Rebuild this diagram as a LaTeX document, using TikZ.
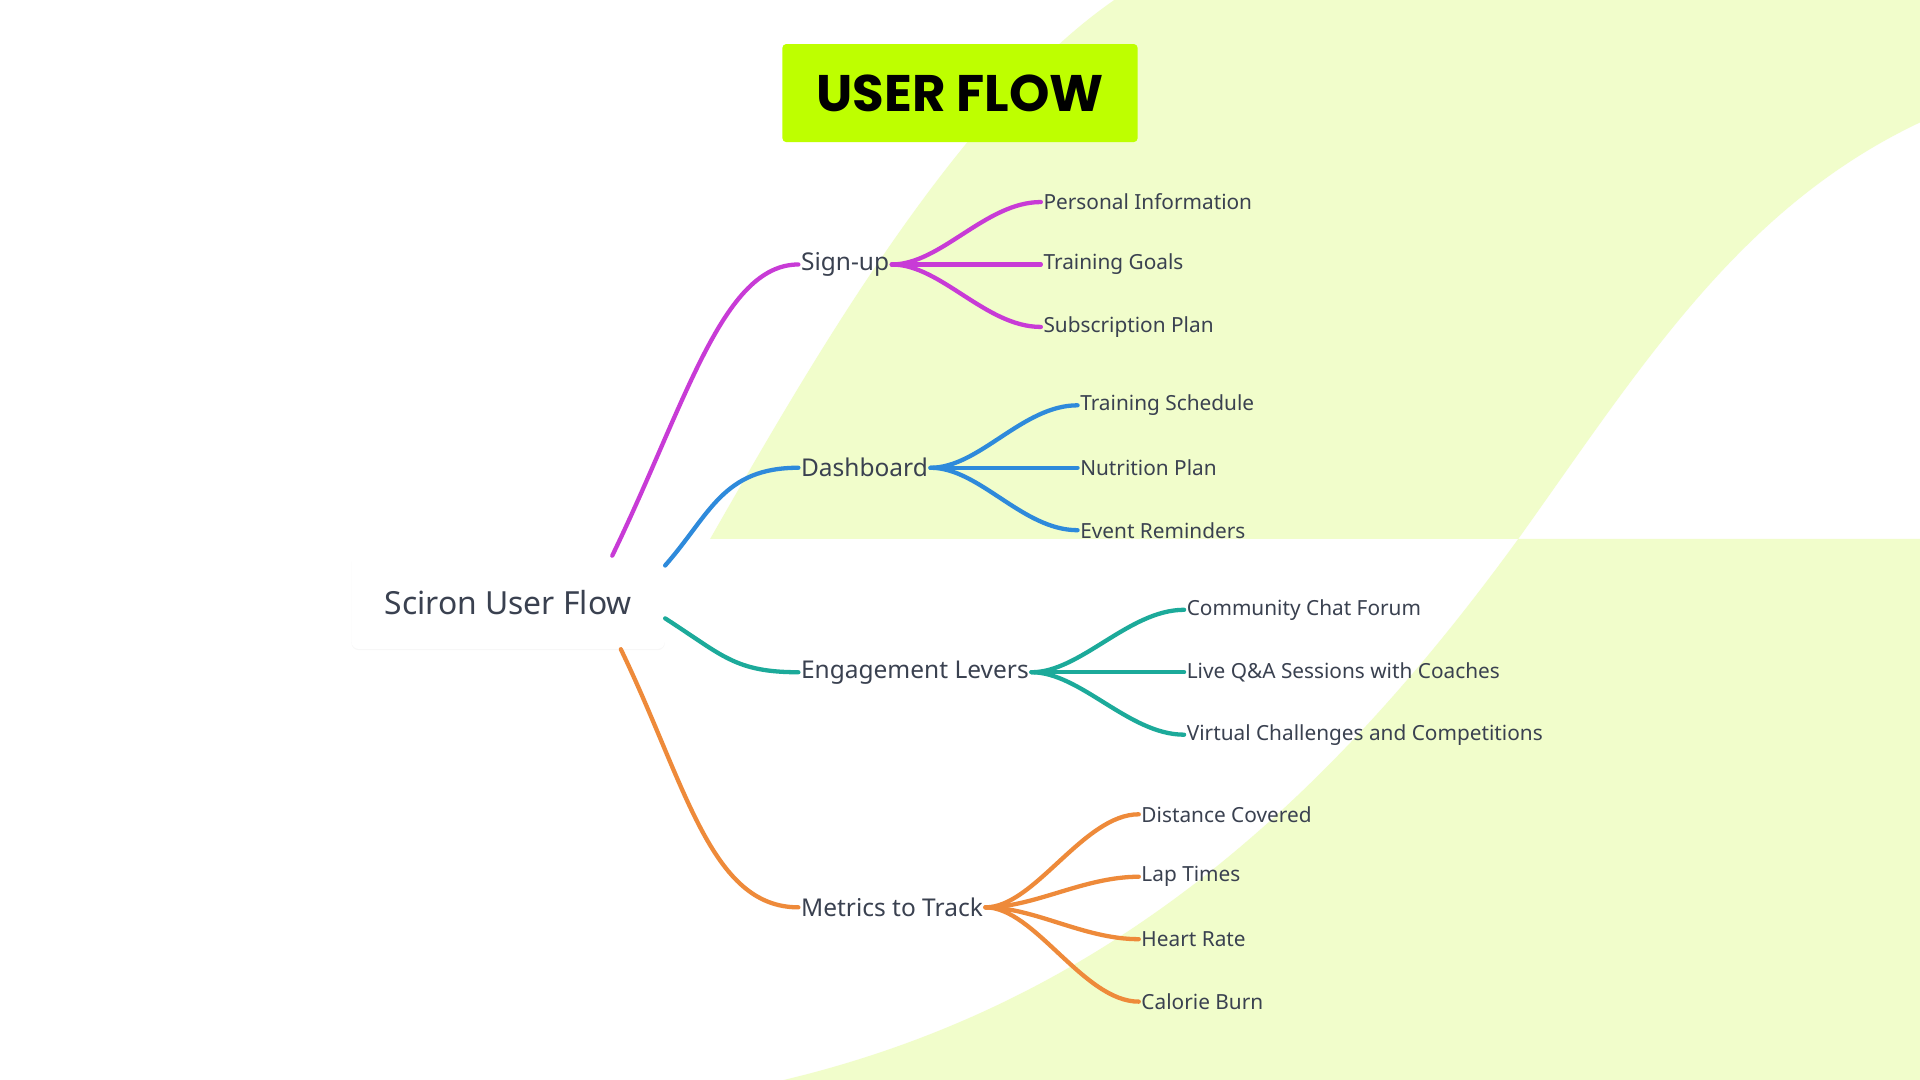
\documentclass[tikz,border=0pt]{standalone}
\usepackage{fontspec}
\setmainfont{Noto Sans}
\newfontfamily\titlefont{Poppins}
\usetikzlibrary{calc,shadows}
\definecolor{bgreen}{HTML}{F1FDCB}
\definecolor{lime}{HTML}{BEFF00}
\definecolor{txt}{HTML}{3A4150}
\definecolor{cmag}{HTML}{C83BD6}
\definecolor{cblue}{HTML}{2E8ADB}
\definecolor{cteal}{HTML}{1CAA9A}
\definecolor{corange}{HTML}{EE8A3A}
\tikzset{
  branch/.style={anchor=west,inner sep=2pt,text=txt,font=\fontsize{20}{24}\selectfont},
  leaf/.style={anchor=west,inner sep=2pt,text=txt,font=\fontsize{17}{20}\selectfont},
  link/.style={line width=3.5pt,line cap=round}
}
\begin{document}
\begin{tikzpicture}[x=1pt,y=-1pt]
  \useasboundingbox (0,0) rectangle (1568,882);
  \fill [white] (0,0) rectangle (1568,882);
  % background shapes
  \fill [bgreen] (910,0) .. controls (780,90) and (660,300) .. (580,440)
    -- (1240,440) .. controls (1340,300) and (1420,170) .. (1568,100) -- (1568,0) -- cycle;
  \fill [bgreen] (1240,440) .. controls (1080,660) and (900,820) .. (640,882)
    -- (1568,882) -- (1568,440) -- cycle;

  % title
  \node (title) [fill=lime,rounded corners=3pt,minimum width=290pt,minimum height=80pt,
    font=\titlefont\bfseries\fontsize{42}{46}\selectfont] at (784,76) {USER FLOW};

  % root
  \node (root) [fill=white,rounded corners=6pt,minimum width=256pt,minimum height=76pt,
    drop shadow={opacity=0.06,shadow xshift=0pt,shadow yshift=-1pt},
    text=txt,font=\fontsize{26}{30}\selectfont] at (415,492) {Sciron User Flow};

  % branches
  \node (signup) [branch] at (652,216) {Sign-up};
  \node (dash)   [branch] at (652,382) {Dashboard};
  \node (engage) [branch] at (652,549) {Engagement Levers};
  \node (metric) [branch] at (652,741) {Metrics to Track};

  \draw [link,cmag] ($(root.north)+(85,0)$) .. controls (560,330) and (590,216) .. (signup.west);
  \draw [link,cblue] ($(root.north east)+(0,8)$) .. controls (580,420) and (590,382) .. (dash.west);
  \draw [link,cteal] ($(root.east)+(0,13)$) .. controls (590,535) and (600,549) .. (engage.west);
  \draw [link,corange] ($(root.south)+(92,0)$) .. controls (560,640) and (580,741) .. (metric.west);

  % leaves
  \node (pinfo) [leaf] at (850,165) {Personal Information};
  \node (goals) [leaf] at (850,216) {Training Goals};
  \node (plan)  [leaf] at (850,267) {Subscription Plan};
  \node (sched) [leaf] at (880,331) {Training Schedule};
  \node (nutri) [leaf] at (880,382) {Nutrition Plan};
  \node (event) [leaf] at (880,433) {Event Reminders};
  \node (chat)  [leaf] at (967,498) {Community Chat Forum};
  \node (qa)    [leaf] at (967,549) {Live Q\&A Sessions with Coaches};
  \node (chall) [leaf] at (967,600) {Virtual Challenges and Competitions};
  \node (dist)  [leaf] at (930,665) {Distance Covered};
  \node (lap)   [leaf] at (930,716) {Lap Times};
  \node (heart) [leaf] at (930,767) {Heart Rate};
  \node (cal)   [leaf] at (930,818) {Calorie Burn};

  \foreach \l in {pinfo,goals,plan}
    \draw [link,cmag] (signup.east) .. controls +(40,0) and +(-45,0) .. (\l.west);
  \foreach \l in {sched,nutri,event}
    \draw [link,cblue] (dash.east) .. controls +(40,0) and +(-45,0) .. (\l.west);
  \foreach \l in {chat,qa,chall}
    \draw [link,cteal] (engage.east) .. controls +(40,0) and +(-45,0) .. (\l.west);
  \foreach \l in {dist,lap,heart,cal}
    \draw [link,corange] (metric.east) .. controls +(40,0) and +(-45,0) .. (\l.west);
\end{tikzpicture}
\end{document}
